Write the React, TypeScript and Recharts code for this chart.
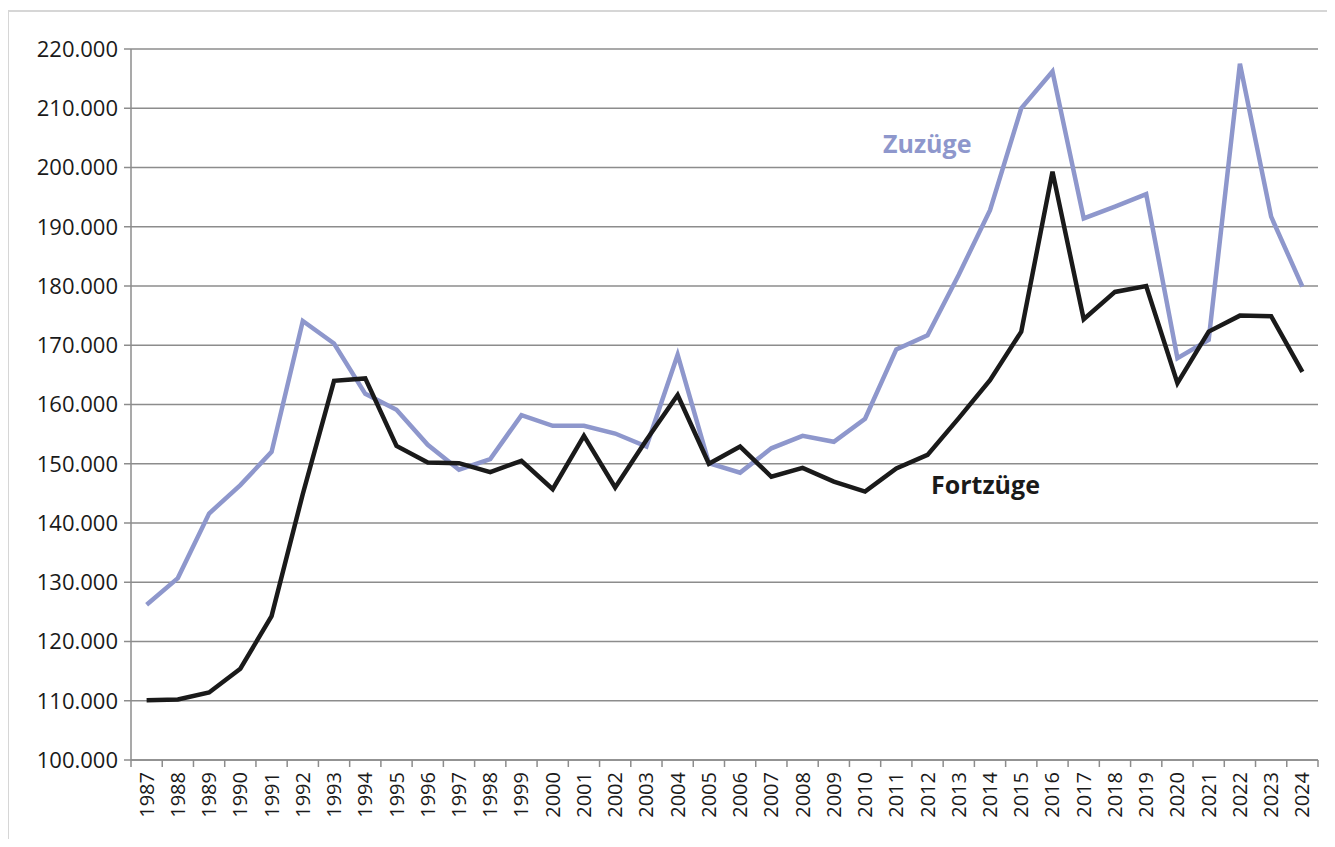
import { LineChart, Line, XAxis, YAxis, CartesianGrid } from 'recharts';

const years = [
  '1987', '1988', '1989', '1990', '1991', '1992', '1993', '1994', '1995', '1996',
  '1997', '1998', '1999', '2000', '2001', '2002', '2003', '2004', '2005', '2006',
  '2007', '2008', '2009', '2010', '2011', '2012', '2013', '2014', '2015', '2016',
  '2017', '2018', '2019', '2020', '2021', '2022', '2023', '2024',
];

// Zuzüge (in Personen)
const zuzuege = [
  126200, 130700, 141600, 146400, 152000, 174100, 170300, 161800, 159100, 153200,
  149000, 150800, 158200, 156400, 156400, 155100, 152900, 168400, 150100, 148500,
  152600, 154700, 153700, 157600, 169300, 171700, 181900, 192800, 210000, 216200,
  191400, 193400, 195500, 167800, 170900, 217500, 191700, 179900,
];

// Fortzüge
const fortzuege = [
  110100, 110200, 111400, 115400, 124300, 144900, 164000, 164400, 153000, 150200,
  150100, 148600, 150500, 145700, 154700, 146000, 154000, 161600, 150000, 152900,
  147800, 149300, 147000, 145300, 149200, 151500, 157700, 164100, 172300, 199300,
  174400, 179000, 180000, 163600, 172300, 175000, 174900, 165500,
];

const yTicks = [100000, 110000, 120000, 130000, 140000, 150000, 160000, 170000, 180000, 190000, 200000, 210000, 220000];

const data = years.map((year, i) => ({ year, zuzuege: zuzuege[i], fortzuege: fortzuege[i] }));

const W = 1335;
const H = 847;
const PLOT_LEFT = 131;
const PLOT_RIGHT = 1318;
const PLOT_TOP = 49;
const PLOT_BOTTOM = 760;
const BAND = (PLOT_RIGHT - PLOT_LEFT) / years.length;

const BLUE = '#8e97cc';
const DARK = '#1a1a1a';
const GRID = '#8c8c8c';
const FONT = '"Open Sans", "Noto Sans", sans-serif';

const fmt = (v: number) => v.toLocaleString('de-DE');

function YearTick(props: any) {
  const { x, y, payload, index } = props;
  const last = index === years.length - 1;
  return (
    <g>
      <line x1={x - BAND / 2} x2={x - BAND / 2} y1={y - 8} y2={y - 1} stroke={GRID} strokeWidth={1.5} />
      {last && <line x1={x + BAND / 2} x2={x + BAND / 2} y1={y - 8} y2={y - 1} stroke={GRID} strokeWidth={1.5} />}
      <text
        x={x}
        y={y + 4}
        dy="0.35em"
        textAnchor="end"
        transform={`rotate(-90, ${x}, ${y + 4})`}
        fontSize={20}
        fontFamily={FONT}
        fill={DARK}
      >
        {payload.value}
      </text>
    </g>
  );
}

export default function App() {
  return (
    <div style={{ position: 'relative', width: W, height: H, margin: -8, overflow: 'hidden', background: '#fff' }}>
      <div
        style={{
          position: 'absolute',
          left: 7,
          top: 10,
          width: 1322,
          height: 900,
          border: '2px solid #d6d6d6',
          boxSizing: 'border-box',
        }}
      />
      <div style={{ position: 'absolute', left: 0, top: 0 }}>
        <LineChart
          width={W}
          height={H}
          data={data}
          margin={{ top: PLOT_TOP, right: W - PLOT_RIGHT, left: PLOT_LEFT - 120, bottom: H - PLOT_BOTTOM - 80 }}
        >
          <CartesianGrid vertical={false} stroke={GRID} strokeWidth={1.5} />
          <XAxis
            dataKey="year"
            interval={0}
            height={80}
            padding={{ left: BAND / 2, right: BAND / 2 }}
            axisLine={{ stroke: GRID, strokeWidth: 1.5 }}
            tickLine={false}
            tick={<YearTick />}
          />
          <YAxis
            width={120}
            domain={[100000, 220000]}
            ticks={yTicks}
            tickFormatter={fmt}
            tickSize={7}
            tickMargin={6}
            axisLine={{ stroke: GRID, strokeWidth: 1.5 }}
            tickLine={{ stroke: GRID, strokeWidth: 1.5 }}
            tick={{ fontSize: 22, fontFamily: FONT, fill: DARK }}
            allowDataOverflow
          />
          <YAxis
            yAxisId="right"
            orientation="right"
            width={0}
            tick={false}
            tickLine={false}
            axisLine={{ stroke: GRID, strokeWidth: 1.5 }}
          />
          <Line
            type="linear"
            dataKey="zuzuege"
            stroke={BLUE}
            strokeWidth={4.5}
            dot={false}
            activeDot={false}
            isAnimationActive={false}
          />
          <Line
            type="linear"
            dataKey="fortzuege"
            stroke={DARK}
            strokeWidth={4.5}
            dot={false}
            activeDot={false}
            isAnimationActive={false}
          />
        </LineChart>
      </div>
      <div
        style={{
          position: 'absolute',
          left: 883,
          top: 126,
          fontFamily: FONT,
          fontWeight: 700,
          fontSize: 25,
          color: BLUE,
        }}
      >
        Zuzüge
      </div>
      <div
        style={{
          position: 'absolute',
          left: 931,
          top: 467,
          fontFamily: FONT,
          fontWeight: 700,
          fontSize: 25,
          color: DARK,
        }}
      >
        Fortzüge
      </div>
    </div>
  );
}
